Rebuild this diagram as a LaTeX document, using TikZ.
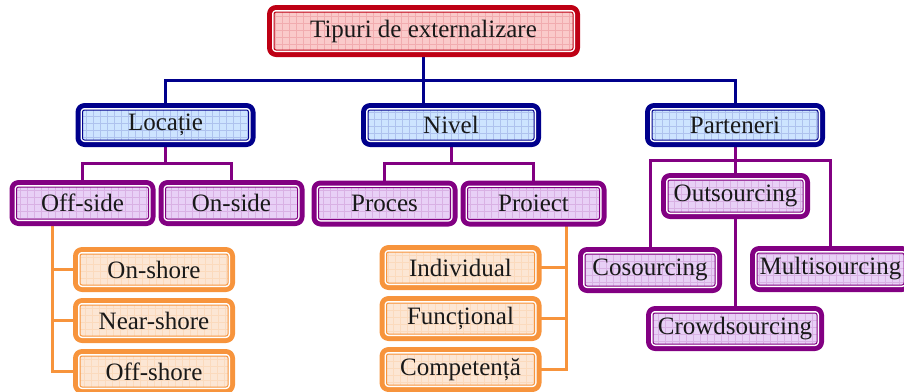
\documentclass[tikz,border=0pt]{standalone}
\usepackage{fontspec}
\setmainfont{Liberation Serif}
\usepackage{tikz}
\usetikzlibrary{positioning,calc,backgrounds}

\definecolor{rootred}{RGB}{190,0,20}
\definecolor{rootfill}{RGB}{250,202,202}
\definecolor{catblue}{RGB}{0,0,140}
\definecolor{catfill}{RGB}{205,228,255}
\definecolor{subpurple}{RGB}{130,0,130}
\definecolor{subfill}{RGB}{232,208,246}
\definecolor{leaforange}{RGB}{247,148,60}
\definecolor{leaffill}{RGB}{252,230,212}

\begin{document}
\begin{tikzpicture}[
  x=1pt, y=-1pt,
  node distance=19pt and 16pt,
  boxframe/.style 2 args={draw=#1, line width=1pt, fill=#2, rounded corners=2pt, line join=round,
    preaction={draw=#1, line width=14pt},
    preaction={draw=white, line width=4pt},
    path picture={\draw[#1!15!#2, line width=0.4pt] (path picture bounding box.south west) grid[step=7pt] (path picture bounding box.north east);},
    inner sep=1pt, align=center, font=\fontsize{25}{30}\selectfont, text=black!90},
  rootbox/.style={boxframe={rootred}{rootfill}, minimum width=299pt, minimum height=38pt},
  catbox/.style={boxframe={catblue}{catfill}, minimum width=166pt, minimum height=30pt},
  subbox/.style={boxframe={subpurple}{subfill}, minimum width=132pt, minimum height=32pt},
  leafbox/.style={boxframe={leaforange}{leaffill}, minimum width=148pt, minimum height=31pt},
  navyline/.style={draw=catblue, line width=3pt},
  purpline/.style={draw=subpurple, line width=3pt},
  oraline/.style={draw=leaforange, line width=3pt}
]
  \useasboundingbox (0,0) rectangle (904,391);

  \node[rootbox] (root) at (423.5,31) {Tipuri de externalizare};
  \node[catbox] (loc) at (165.5,125) {Locație};
  \node[catbox] (niv) at (451,125) {Nivel};
  \node[catbox] (par) at (735,125) {Parteneri};

  \node[subbox] (off) at (82.5,203) {Off-side};
  \node[subbox, right=16pt of off] (ons) {On-side};
  \node[subbox] (proc) at (384.5,203.5) {Proces};
  \node[subbox, right=16pt of proc] (proi) {Proiect};
  \node[subbox, minimum width=135pt] (outs) at (735.5,196) {Outsourcing};
  \node[subbox, minimum width=130pt] (cos) at (650,270) {Cosourcing};
  \node[subbox, minimum width=147pt] (multi) at (830.5,269) {Multisourcing};
  \node[subbox, minimum width=164pt, minimum height=31pt] (crowd) at (735,328.5) {Crowdsourcing};

  \node[leafbox] (onsh) at (154,269.5) {On-shore};
  \node[leafbox, below=19pt of onsh] (nearsh) {Near-shore};
  \node[leafbox, below=19pt of nearsh] (offsh) {Off-shore};
  \node[leafbox] (indiv) at (460.5,267.5) {Individual};
  \node[leafbox, below=19pt of indiv] (func) {Funcțional};
  \node[leafbox, below=19pt of func] (comp) {Competență};

  \begin{scope}[on background layer]
    \draw[navyline] (root.south) -- (root.south |- niv.north);
    \draw[navyline] (loc.north) |- ($(root.south)!.5!(niv.north)$) -| (par.north);

    \draw[purpline] (loc.south) -- ++(0,23) coordinate (locbus);
    \draw[purpline] (off.north) |- (locbus) -| (ons.north);
    \draw[purpline] (niv.south) -- ++(0,23) coordinate (nivbus);
    \draw[purpline] (proc.north) |- (nivbus) -| (proi.north);
    \draw[purpline] (par.south) -- ++(0,20) coordinate (parbus);
    \draw[purpline] (cos.north) |- (parbus) -| (multi.north);
    \draw[purpline] (parbus) -- (crowd.north);

    \draw[oraline] ($(off.south)+(-30,0)$) coordinate (offdrop) |- (offsh.west);
    \draw[oraline] (offdrop |- onsh.west) -- (onsh.west);
    \draw[oraline] (offdrop |- nearsh.west) -- (nearsh.west);
    \draw[oraline] ($(proi.south)+(32.5,0)$) coordinate (proidrop) |- (comp.east);
    \draw[oraline] (proidrop |- indiv.east) -- (indiv.east);
    \draw[oraline] (proidrop |- func.east) -- (func.east);
  \end{scope}
\end{tikzpicture}
\end{document}
